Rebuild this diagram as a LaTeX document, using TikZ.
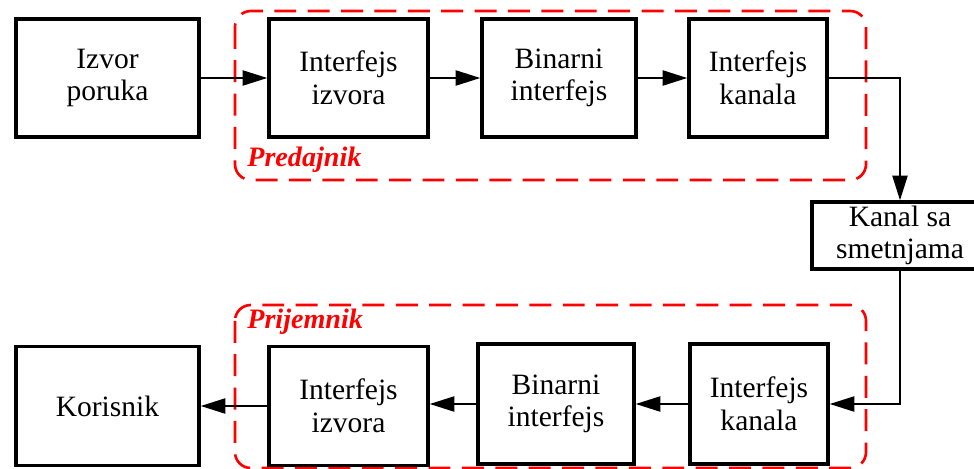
\documentclass[tikz,border=0pt]{standalone}
\usepackage{fontspec}
\setmainfont{Liberation Serif}
\usetikzlibrary{arrows.meta}

\tikzset{
    blok/.style={draw, line width=1.9pt, align=center, inner sep=0pt,
        font=\fontsize{16.8}{18.6}\selectfont},
    veza/.style={line width=1.3pt, -{Triangle[length=14pt, width=8.5pt]}},
    okvir/.style={draw=red, line width=1.5pt, dash pattern=on 12.5pt off 6.5pt,
        rounded corners=9pt},
    natpis/.style={text=red, font=\fontsize{16}{18}\selectfont\bfseries\itshape,
        anchor=base west, inner sep=0pt}
}

\begin{document}
\begin{tikzpicture}

    % Fix the page size
    \useasboundingbox (0, 0) rectangle (19.48, -9.38);

    % Dashed frames for transmitter and receiver
    \draw[okvir] (4.70, -0.22) rectangle (17.32, -3.60);
    \draw[okvir] (4.70, -6.10) rectangle (17.32, -9.36);

    \node[natpis] (predajnik) at (4.94, -3.33) {Predajnik};
    \node[natpis] (prijemnik) at (4.94, -6.56) {Prijemnik};

    % Upper row: source side
    \node[blok, minimum width=3.66cm, minimum height=2.36cm] (izvor) at (2.15, -1.56) {Izvor\\poruka};
    \node[blok, minimum width=3.18cm, minimum height=2.36cm] (izvIfT) at (6.97, -1.56) {Interfejs\\izvora};
    \node[blok, minimum width=3.08cm, minimum height=2.36cm] (binT) at (11.18, -1.56) {Binarni\\interfejs};
    \node[blok, minimum width=2.76cm, minimum height=2.36cm] (kanIfT) at (15.16, -1.56) {Interfejs\\kanala};

    % Channel (runs past the right edge of the page)
    \node[blok, minimum width=3.52cm, minimum height=1.34cm] (kanal) at (18.00, -4.71) {Kanal sa\\smetnjama};

    % Lower row: user side
    \node[blok, minimum width=3.66cm, minimum height=2.38cm] (korisnik) at (2.15, -8.12) {Korisnik};
    \node[blok, minimum width=3.18cm, minimum height=2.38cm] (izvIfB) at (6.97, -8.12) {Interfejs\\izvora};
    \node[blok, minimum width=3.12cm, minimum height=2.40cm] (binB) at (11.12, -8.08) {Binarni\\interfejs};
    \node[blok, minimum width=2.76cm, minimum height=2.40cm] (kanIfB) at (15.18, -8.08) {Interfejs\\kanala};

    % Connections
    \draw[veza] (izvor) -- (izvIfT);
    \draw[veza] (izvIfT) -- (binT);
    \draw[veza] (binT) -- (kanIfT);
    \draw[veza] (kanIfT.east) -| (kanal.north);
    \draw[veza] (kanal.south) |- (kanIfB.east);
    \draw[veza] (kanIfB) -- (binB);
    \draw[veza] (binB.west) -- (binB.west -| izvIfB.east);
    \draw[veza] (izvIfB.west) -- (izvIfB.west -| korisnik.east);

\end{tikzpicture}
\end{document}
